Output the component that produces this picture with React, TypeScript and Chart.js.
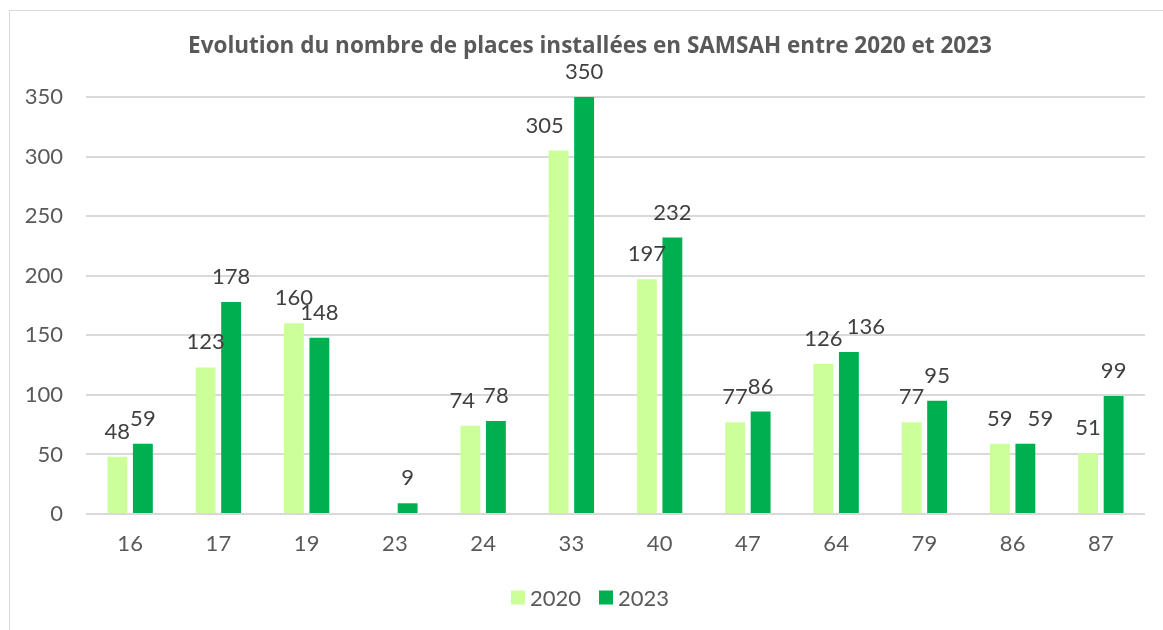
import React, { useEffect, useRef } from "react";
import { Chart, registerables } from "chart.js";

Chart.register(...registerables);

const TITLE = "Evolution du nombre de places installées en SAMSAH entre 2020 et 2023";
const categories = ["16", "17", "19", "23", "24", "33", "40", "47", "64", "79", "86", "87"];
const values2020: (number | null)[] = [48, 123, 160, null, 74, 305, 197, 77, 126, 77, 59, 51];
const values2023: (number | null)[] = [59, 178, 148, 9, 78, 350, 232, 86, 136, 95, 59, 99];
const seriesNames = ["2020", "2023"];
const seriesColors = ["#ccff99", "#00b050"];

const FONT = "Lato, 'Open Sans', sans-serif";
const TITLE_FONT = "'Open Sans', Lato, sans-serif";
const TEXT_SIZE = 22;

const dataLabelPlugin = {
  id: "dataLabels",
  afterDatasetsDraw(chart: any, _args: any, opts: any) {
    const ctx = chart.ctx;
    const shifts = (opts && opts.shifts) || {};
    ctx.save();
    ctx.font = `${TEXT_SIZE}px ${FONT}`;
    ctx.fillStyle = "#404040";
    ctx.textAlign = "center";
    ctx.textBaseline = "alphabetic";
    chart.data.datasets.forEach((ds: any, di: number) => {
      const meta = chart.getDatasetMeta(di);
      meta.data.forEach((bar: any, i: number) => {
        const v = ds.data[i];
        if (v === null || v === undefined) return;
        const dx = shifts[`${di}:${i}`] || 0;
        ctx.fillText(String(v), bar.x + dx, bar.y - 18);
      });
    });
    ctx.restore();
  },
};

// Title and legend centred on the outer chart frame (which extends beyond the right edge)
const frameDecorPlugin = {
  id: "frameDecor",
  afterDraw(chart: any, _args: any, opts: any) {
    const ctx = chart.ctx;
    const cx = opts.centerX;
    ctx.save();
    ctx.font = `bold 22.5px ${TITLE_FONT}`;
    ctx.fillStyle = "#595959";
    ctx.textAlign = "center";
    ctx.textBaseline = "middle";
    ctx.fillText(opts.title, cx, opts.titleY);
    ctx.font = `${TEXT_SIZE}px ${FONT}`;
    const box = 14;
    const gap = 5;
    const itemGap = 18;
    const items = chart.data.datasets.map((ds: any) => ({
      text: ds.label,
      color: ds.backgroundColor,
      w: ctx.measureText(ds.label).width,
    }));
    let total = 0;
    items.forEach((it: any, i: number) => {
      total += box + gap + it.w + (i < items.length - 1 ? itemGap : 0);
    });
    let x = cx - total / 2;
    const y = opts.legendY;
    ctx.textAlign = "left";
    items.forEach((it: any) => {
      ctx.fillStyle = it.color;
      ctx.fillRect(x, y - box / 2, box, box);
      x += box + gap;
      ctx.fillStyle = "#595959";
      ctx.fillText(it.text, x, y + 1);
      x += it.w + itemGap;
    });
    ctx.restore();
  },
};

export default function App() {
  const ref = useRef<HTMLCanvasElement | null>(null);

  useEffect(() => {
    if (!ref.current) return;
    const chart = new Chart(ref.current, {
      type: "bar",
      data: {
        labels: categories,
        datasets: [
          {
            label: seriesNames[0],
            data: values2020,
            backgroundColor: seriesColors[0],
            categoryPercentage: 0.578,
            barPercentage: 0.78,
          },
          {
            label: seriesNames[1],
            data: values2023,
            backgroundColor: seriesColors[1],
            categoryPercentage: 0.578,
            barPercentage: 0.78,
          },
        ],
      },
      options: {
        animation: false,
        responsive: false,
        maintainAspectRatio: false,
        layout: { padding: { left: 0, right: 18, top: 97, bottom: 52.5 } },
        scales: {
          x: {
            grid: { display: false, drawTicks: false },
            border: { display: false },
            ticks: { color: "#595959", font: { family: FONT, size: TEXT_SIZE }, padding: 17 },
            afterFit: (s: any) => {
              s.height = 63.5;
            },
          },
          y: {
            min: 0,
            max: 350,
            ticks: { stepSize: 50, color: "#595959", font: { family: FONT, size: TEXT_SIZE }, padding: 23 },
            grid: { color: "#d9d9d9", lineWidth: 2, drawTicks: false },
            border: { display: false },
            afterFit: (s: any) => {
              s.width = 86;
            },
          },
        },
        plugins: {
          title: { display: false },
          legend: { display: false },
          tooltip: { enabled: false },
          dataLabels: {
            shifts: { "0:4": -8, "0:5": -14, "1:8": 17, "1:10": 15 },
          },
          frameDecor: {
            title: TITLE,
            centerX: 590,
            titleY: 47,
            legendY: 597.5,
          },
        } as any,
      },
      plugins: [dataLabelPlugin, frameDecorPlugin],
    });
    return () => chart.destroy();
  }, []);

  return (
    <div
      style={{
        position: "fixed",
        left: 0,
        top: 0,
        width: 1163,
        height: 630,
        background: "#ffffff",
        overflow: "hidden",
      }}
    >
      <div
        style={{
          position: "absolute",
          left: 9,
          top: 10,
          width: 1200,
          height: 700,
          border: "1px solid #d9d9d9",
          boxSizing: "border-box",
        }}
      />
      <canvas ref={ref} width={1163} height={630} style={{ position: "absolute", left: 0, top: 0 }} />
    </div>
  );
}
